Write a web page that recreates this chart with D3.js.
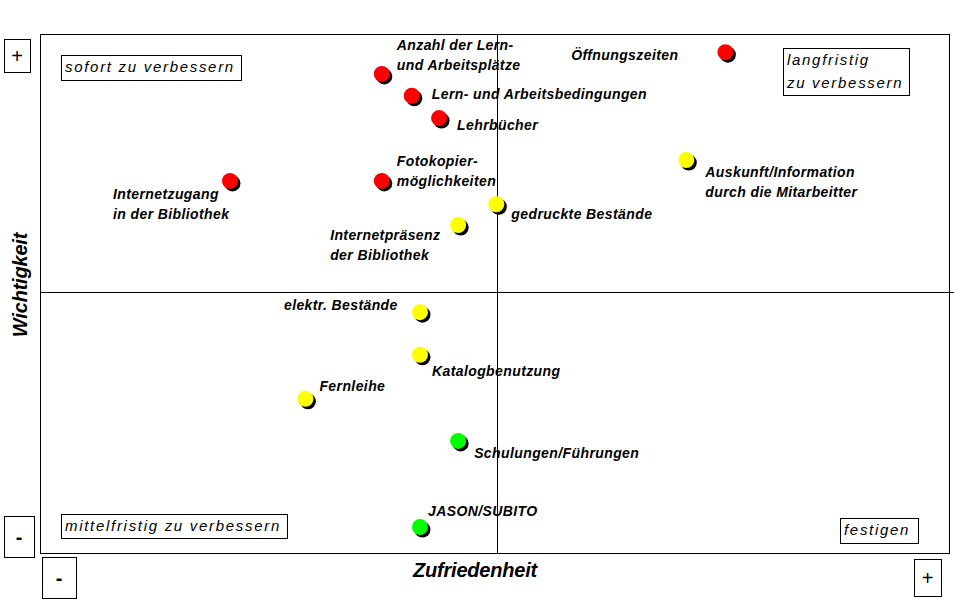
<!DOCTYPE html>
<html>
<head>
<meta charset="utf-8">
<script src="https://cdn.jsdelivr.net/npm/d3@7"></script>
<style>
  body { margin: 0; background: #fff; }
  text { font-family: "Liberation Sans", Arial, sans-serif; }
</style>
</head>
<body>
<div id="canvas"></div>
<script>
// Zufriedenheit (x) / Wichtigkeit (y), 0..100
let items = [
  ['Anzahl der Lern-', 'und Arbeitsplätze'],
  ['Lern- und Arbeitsbedingungen'],
  ['Lehrbücher'],
  ['Öffnungszeiten'],
  ['Auskunft/Information', 'durch die Mitarbeitter'],
  ['Internetzugang', 'in der Bibliothek'],
  ['Fotokopier-', 'möglichkeiten'],
  ['gedruckte Bestände'],
  ['Internetpräsenz', 'der Bibliothek'],
  ['elektr. Bestände'],
  ['Katalogbenutzung'],
  ['Fernleihe'],
  ['Schulungen/Führungen'],
  ['JASON/SUBITO']
];
let zufriedenheit = [37.6, 40.9, 43.9, 75.4, 71.1, 20.9, 37.6, 50.2, 46.0, 41.8, 41.8, 29.2, 46.0, 41.8];
let wichtigkeit   = [92.3, 88.1, 83.8, 96.5, 75.7, 71.7, 71.7, 67.2, 63.2, 46.4, 38.2, 29.7, 21.6, 5.0];
let ampel = ['rot', 'rot', 'rot', 'rot', 'gelb', 'rot', 'rot', 'gelb', 'gelb', 'gelb', 'gelb', 'gelb', 'gruen', 'gruen'];

// where each label sits relative to its dot
let labelOffsets = [
  [15, -24], [20, 3], [18, 12], [-47, 8], [19, 17], [-117, 18], [15, -15],
  [15, 15], [-128, 15], [-136, -2], [12, 21], [14, -8], [16, 17], [8, -11]
];
let labelAnchor = ['start', 'start', 'start', 'end', 'start', 'start', 'start',
  'start', 'start', 'start', 'start', 'start', 'start', 'start'];

let colors = { rot: '#ff0000', gelb: '#ffff00', gruen: '#00ff00' };
let xMid = 50.3, yMid = 50.3;

let width = 954, height = 609;

let svg = d3.select('#canvas').append('svg')
  .attr('width', width)
  .attr('height', height);

let x = d3.scaleLinear().domain([0, 100]).range([40, 949]);
let y = d3.scaleLinear().domain([0, 100]).range([553, 34]);

// frame
svg.append('rect')
  .attr('x', 40.5).attr('y', 34.5)
  .attr('width', 909).attr('height', 519)
  .attr('fill', 'none').attr('stroke', '#000');

svg.append('line')
  .attr('x1', Math.round(x(xMid)) + 0.5).attr('x2', Math.round(x(xMid)) + 0.5)
  .attr('y1', 34).attr('y2', 553)
  .attr('stroke', '#000');

svg.append('line')
  .attr('x1', 40).attr('x2', 954)
  .attr('y1', Math.round(y(yMid)) + 0.5).attr('y2', Math.round(y(yMid)) + 0.5)
  .attr('stroke', '#000');

// quadrant boxes
function box(bx, by, bw, bh, lines) {
  let g = svg.append('g');
  g.append('rect')
    .attr('x', bx + 0.5).attr('y', by + 0.5)
    .attr('width', bw).attr('height', bh)
    .attr('fill', '#fff').attr('stroke', '#000');
  lines.forEach(function(l, i) {
    g.append('text')
      .attr('x', bx + 4)
      .attr('y', by + 17 + i * 23)
      .attr('font-size', 15)
      .attr('font-style', 'italic')
      .attr('letter-spacing', 1.7)
      .text(l);
  });
}
box(61, 55, 180, 25, ['sofort zu verbessern']);
box(783, 48, 126, 47, ['langfristig', 'zu verbessern']);
box(61, 514, 226, 24, ['mittelfristig zu verbessern']);
box(840, 518, 78, 25, ['festigen']);

// + / - markers
function sign(bx, by, bw, bh, s) {
  svg.append('rect')
    .attr('x', bx + 0.5).attr('y', by + 0.5)
    .attr('width', bw).attr('height', bh)
    .attr('fill', '#fff').attr('stroke', '#000');
  svg.append('text')
    .attr('x', bx + bw / 2).attr('y', by + bh / 2 + 7)
    .attr('text-anchor', 'middle')
    .attr('font-size', 20)
    .attr('font-weight', s === '-' ? 'bold' : 'normal')
    .text(s);
}
sign(4, 39, 26, 33, '+');
sign(4, 516, 30, 41, '-');
sign(42, 557, 34, 41, '-');
sign(914, 559, 27, 37, '+');

// axis titles
svg.append('text')
  .attr('x', 475).attr('y', 577)
  .attr('text-anchor', 'middle')
  .attr('font-size', 20)
  .attr('font-weight', 'bold')
  .attr('font-style', 'italic')
  .attr('letter-spacing', -0.2)
  .text('Zufriedenheit');

svg.append('text')
  .attr('transform', 'translate(27,285) rotate(-90)')
  .attr('text-anchor', 'middle')
  .attr('font-size', 20)
  .attr('font-weight', 'bold')
  .attr('font-style', 'italic')
  .attr('letter-spacing', -0.2)
  .text('Wichtigkeit');

// dots
let idx = d3.range(items.length);

svg.selectAll('circle.shadow')
  .data(idx)
  .enter()
  .append('circle')
  .attr('class', 'shadow')
  .attr('cx', function(i) { return x(zufriedenheit[i]) + 2.5; })
  .attr('cy', function(i) { return y(wichtigkeit[i]) + 2.5; })
  .attr('r', 8)
  .attr('fill', '#000');

svg.selectAll('circle.dot')
  .data(idx)
  .enter()
  .append('circle')
  .attr('class', 'dot')
  .attr('cx', function(i) { return x(zufriedenheit[i]); })
  .attr('cy', function(i) { return y(wichtigkeit[i]); })
  .attr('r', 8)
  .attr('fill', function(i) { return colors[ampel[i]]; });

// labels
let labels = svg.selectAll('text.lbl')
  .data(idx)
  .enter()
  .append('text')
  .attr('class', 'lbl')
  .attr('text-anchor', function(i) { return labelAnchor[i]; })
  .attr('font-size', 14)
  .attr('letter-spacing', 0.4)
  .attr('font-weight', 'bold')
  .attr('font-style', 'italic');

labels.selectAll('tspan')
  .data(function(i) {
    return items[i].map(function(t, k) { return { i: i, k: k, t: t }; });
  })
  .enter()
  .append('tspan')
  .attr('x', function(d) { return x(zufriedenheit[d.i]) + labelOffsets[d.i][0]; })
  .attr('y', function(d) { return y(wichtigkeit[d.i]) + labelOffsets[d.i][1] + d.k * 20; })
  .text(function(d) { return d.t; });
</script>
</body>
</html>
